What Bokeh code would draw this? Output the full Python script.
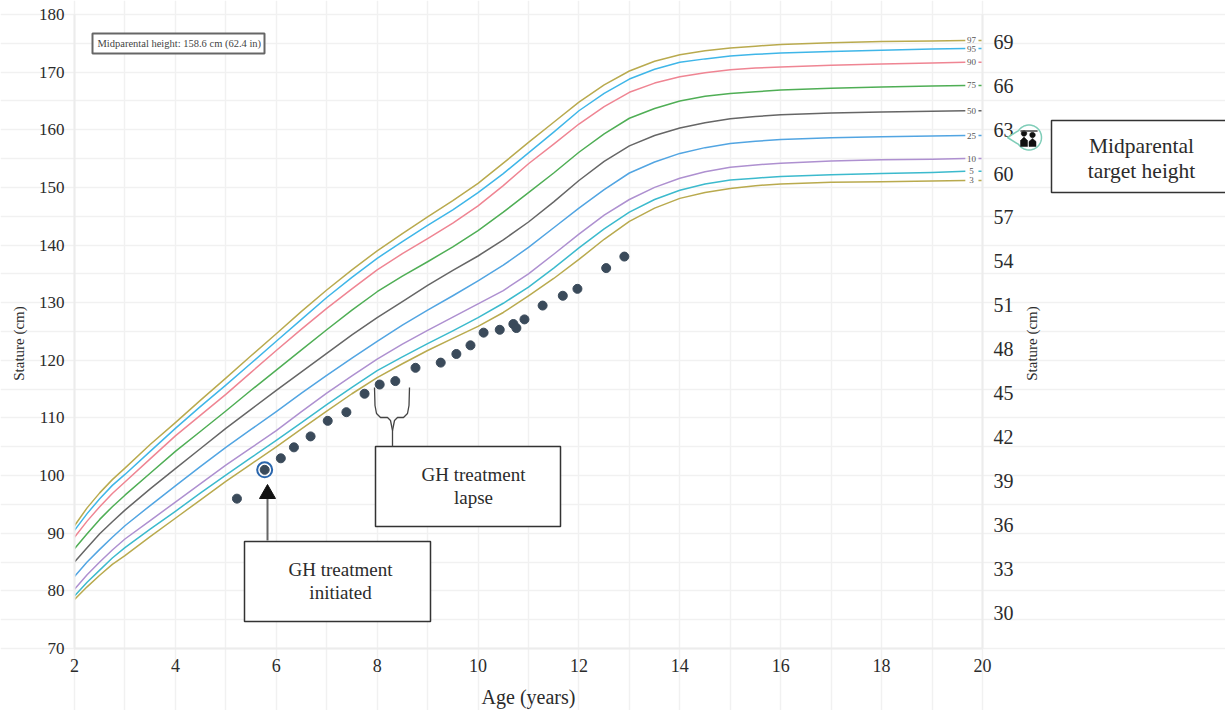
import numpy as np
from bokeh.embed import file_html
from bokeh.resources import INLINE
from bokeh.plotting import figure
from bokeh.models import Range1d, LinearAxis, FixedTicker, BoxAnnotation, Label, PolyAnnotation
from bokeh.core.properties import value

ages = [2, 2.25, 2.5, 2.75, 3, 3.5, 4, 4.5, 5, 5.5, 6, 6.5, 7, 7.5, 8, 8.5, 9, 9.5, 10, 10.5, 11, 11.5,
        12, 12.5, 13, 13.5, 14, 14.5, 15, 15.5, 16, 17, 18, 19, 19.66]
p97 = [91.3, 94.4, 97.0, 99.3, 101.3, 105.4, 109.2, 113.1, 116.9, 120.8, 124.6, 128.5, 132.2, 135.7, 139.0, 142.0, 144.9, 147.7, 150.7, 154.2, 157.8, 161.3, 164.8, 167.8, 170.2, 171.9, 173.0, 173.7, 174.2, 174.5, 174.8, 175.1, 175.3, 175.4, 175.5]
p95 = [90.5, 93.4, 96.0, 98.3, 100.2, 104.2, 108.2, 112.0, 115.7, 119.5, 123.3, 127.1, 130.9, 134.4, 137.7, 140.6, 143.4, 146.1, 149.1, 152.4, 156.0, 159.6, 163.3, 166.3, 168.8, 170.5, 171.7, 172.3, 172.8, 173.1, 173.3, 173.6, 173.8, 174.0, 174.1]
p90 = [89.3, 92.1, 94.6, 96.9, 98.9, 102.9, 106.9, 110.5, 114.1, 117.9, 121.7, 125.4, 129.0, 132.4, 135.7, 138.5, 141.1, 143.8, 146.8, 150.3, 154.1, 157.5, 161.0, 164.0, 166.5, 168.1, 169.2, 169.9, 170.4, 170.7, 170.9, 171.2, 171.4, 171.6, 171.7]
p75 = [87.3, 89.9, 92.4, 94.6, 96.6, 100.4, 104.2, 107.7, 111.2, 114.8, 118.3, 121.8, 125.3, 128.7, 131.9, 134.6, 137.1, 139.7, 142.5, 145.7, 149.1, 152.5, 156.1, 159.3, 162.0, 163.7, 165.0, 165.8, 166.3, 166.6, 166.9, 167.2, 167.4, 167.6, 167.7]
p50 = [85.0, 87.5, 89.9, 92.0, 94.0, 97.7, 101.2, 104.7, 108.2, 111.5, 114.8, 118.0, 121.2, 124.4, 127.4, 130.2, 133.0, 135.6, 138.1, 140.9, 144.0, 147.5, 151.2, 154.5, 157.2, 159.0, 160.3, 161.2, 161.9, 162.3, 162.6, 162.9, 163.1, 163.2, 163.3]
p25 = [82.5, 85.0, 87.2, 89.3, 91.3, 94.8, 98.2, 101.6, 104.9, 108.0, 111.1, 114.3, 117.4, 120.4, 123.3, 126.1, 128.7, 131.2, 133.8, 136.5, 139.6, 143.0, 146.4, 149.6, 152.5, 154.4, 155.9, 156.9, 157.6, 158.0, 158.3, 158.6, 158.8, 158.9, 159.0]
p10 = [80.3, 82.8, 85.0, 87.1, 89.0, 92.2, 95.4, 98.6, 101.8, 104.8, 107.8, 111.1, 114.3, 117.3, 120.2, 122.8, 125.2, 127.5, 129.8, 132.1, 135.0, 138.4, 141.9, 145.2, 147.9, 150.0, 151.6, 152.7, 153.5, 153.9, 154.2, 154.6, 154.8, 154.9, 155.0]
p5 = [79.1, 81.5, 83.6, 85.7, 87.5, 90.7, 93.8, 97.0, 100.1, 103.1, 106.1, 109.2, 112.3, 115.3, 118.2, 120.6, 122.9, 125.1, 127.4, 129.9, 132.7, 136.0, 139.5, 142.8, 145.7, 147.9, 149.5, 150.6, 151.3, 151.6, 151.9, 152.2, 152.4, 152.6, 152.8]
p3 = [78.5, 80.7, 82.7, 84.6, 86.1, 89.4, 92.6, 95.8, 99.0, 102.0, 105.0, 108.1, 111.2, 114.2, 117.0, 119.4, 121.7, 123.8, 125.9, 128.3, 131.2, 134.2, 137.5, 141.0, 144.1, 146.4, 148.1, 149.1, 149.8, 150.3, 150.6, 150.9, 151.0, 151.1, 151.2]

series_names = ["97", "95", "90", "75", "50", "25", "10", "5", "3"]
series_vals = [p97, p95, p90, p75, p50, p25, p10, p5, p3]
series_cols = ["#b9aa4e", "#3fb6e8", "#ef8593", "#4fae55", "#666666", "#52a5e2", "#ae90d0", "#3cbacd", "#b9aa4e"]

visit_age = [5.22, 5.77, 6.09, 6.35, 6.68, 7.02, 7.39, 7.75, 8.05, 8.36, 8.76, 9.26, 9.57, 9.85, 10.11, 10.43, 10.70, 10.76, 10.92, 11.28, 11.68, 11.97, 12.54, 12.90]
visit_stature = [96.0, 101.0, 103.0, 104.9, 106.8, 109.5, 111.0, 114.2, 115.8, 116.4, 118.7, 119.6, 121.1, 122.6, 124.8, 125.3, 126.3, 125.6, 127.1, 129.5, 131.2, 132.4, 136.0, 138.0]
start_index = 1

x_ticks = list(range(2, 21, 2))
y_ticks = list(range(70, 181, 10))
in_ticks = list(range(30, 70, 3))

SERIF = "Liberation Serif"
W, H = 1225, 710
# The frame fills the page, with the axes fixed at the plot's edges, so that the
# callouts and axis titles that lie outside the plot area are not clipped.
PX_X = 908 / 18     # pixels per year
PX_Y = 634 / 110    # pixels per cm
x0, x1 = 2 - 74 / PX_X, 2 + (W - 74) / PX_X
y0, y1 = 70 - (H - 648) / PX_Y, 180 + 14 / PX_Y

p = figure(width=W, height=H, output_backend="svg", toolbar_location=None,
           x_range=Range1d(x0, x1), y_range=Range1d(y0, y1),
           min_border_left=0, min_border_right=0, min_border_top=0, min_border_bottom=0,
           x_axis_location=None, y_axis_location=None)
p.outline_line_color = None
p.background_fill_color = "white"
p.border_fill_color = "white"

p.xgrid.ticker = FixedTicker(ticks=list(range(2, 21)))
p.ygrid.ticker = FixedTicker(ticks=list(range(70, 181, 5)))
p.xgrid.bounds = (70, 180)
p.ygrid.bounds = (2, 20)
for g in (p.xgrid[0], p.ygrid[0]):
    g.grid_line_color = "#f1f1f1"
    g.grid_line_width = 1.5

def style_axis(ax, tick_size, standoff):
    ax.axis_line_color = "#ececec"
    ax.axis_line_width = 2
    ax.major_tick_line_color = None
    ax.minor_tick_line_color = None
    ax.major_label_text_font = SERIF
    ax.major_label_text_font_size = tick_size
    ax.major_label_text_color = "#2b2b2b"
    ax.major_label_standoff = standoff

bottom = LinearAxis(ticker=FixedTicker(ticks=x_ticks), fixed_location=70, bounds=(2, 20))
left = LinearAxis(ticker=FixedTicker(ticks=y_ticks), fixed_location=2, bounds=(70, 180))
p.extra_y_ranges = {"in": Range1d(y0 / 2.54, y1 / 2.54)}
right = LinearAxis(y_range_name="in", ticker=FixedTicker(ticks=in_ticks), fixed_location=20,
                   bounds=(70 / 2.54, 180 / 2.54))
style_axis(bottom, "18px", 4)
style_axis(left, "17px", 4)
style_axis(right, "20px", 5)
p.add_layout(bottom, "below")
p.add_layout(left, "left")
p.add_layout(right, "right")

for name, vals, col in zip(series_names, series_vals, series_cols):
    xs = ages + [float("nan"), 19.92, 20]
    ys = vals + [float("nan"), vals[-1], vals[-1]]
    p.line(xs, ys, line_color=col, line_width=1.5, line_join="round")

p.text(x=[19.78] * 9, y=[v[-1] for v in series_vals], text=series_names,
       text_font=value(SERIF), text_font_size=value("9px"), text_color="#555555",
       text_align="center", text_baseline="middle")

p.scatter(visit_age, visit_stature, size=9, color="#3a4a5a")
p.scatter([visit_age[start_index]], [visit_stature[start_index]], size=15, fill_color=None,
          line_color="#2a66ad", line_width=2)

# ---- annotations placed on the canvas, in page pixels
def box(l, t, r, b, lc="#333333", lw=1.5):
    p.add_layout(BoxAnnotation(left=l, right=r, top=t, bottom=b,
                               left_units="canvas", right_units="canvas",
                               top_units="canvas", bottom_units="canvas",
                               fill_color="white", fill_alpha=1,
                               line_color=lc, line_alpha=1, line_width=lw))

def text(x, y, s, size, align="center", color="#2b2b2b", angle=0.0):
    p.add_layout(Label(x=x, y=y, x_units="canvas", y_units="canvas", text=s, angle=angle,
                       text_font=SERIF, text_font_size=size, text_color=color,
                       text_align=align, text_baseline="middle"))

def poly(pts, fill=None, lc=None, lw=1.0):
    xs = [a for a, _ in pts]
    ys = [b for _, b in pts]
    p.add_layout(PolyAnnotation(xs=xs, ys=ys, xs_units="canvas", ys_units="canvas",
                                fill_color=fill if fill else "white", fill_alpha=1 if fill else 0,
                                line_color=lc, line_alpha=1, line_width=lw))

def open_path(pts, lc, lw):
    poly(pts + pts[::-1], None, lc, lw)

def ring(x, y, r, n=40, a0=0.0, a1=2 * np.pi):
    t = np.linspace(a0, a1, n)
    return [(x + r * np.cos(q), y + r * np.sin(q)) for q in t]

text(18, 343, "Stature (cm)", "15px", angle=np.pi / 2)
text(1031, 343, "Stature (cm)", "15px", angle=np.pi / 2)
text(528, 696, "Age (years)", "20px")

box(92, 33, 264, 53, "#666666", 2)
text(97, 43, "Midparental height: 158.6 cm (62.4 in)", "10.5px", "left", "#444444")

box(244, 541, 430, 621)
text(340, 569, "GH treatment", "19px")
text(340, 592, "initiated", "19px")
box(375, 446, 560, 526)
text(473, 474, "GH treatment", "19px")
text(473, 497, "lapse", "19px")
box(1051, 120, 1260, 192)
text(1141, 145, "Midparental", "21.5px")
text(1141, 170, "target height", "21.5px")

# arrow to treatment start
open_path([(267, 540), (267, 497)], "#666666", 2)
poly([(259, 498), (267, 484), (275, 498)], "#111111", "#111111", 1)

# brace over the lapse
open_path([(374, 387), (374.5, 405), (376, 413), (380, 417), (387, 417), (390, 420), (392, 430), (392, 446)], "#444444", 1.3)
open_path([(409, 387), (408.5, 405), (407, 413), (403, 417), (397, 417), (394, 420), (392, 430)], "#444444", 1.3)

# midparental bubble
bubble = ring(1028.5, 137, 12.5, 40, -2.55, 2.55) + [(1007, 137)]
poly(bubble, "white", "#7fcdb8", 1.5)
poly(ring(1023.5, 133, 2.8, 16), "#111111", "#111111", 0.5)
poly(ring(1032, 134.5, 2.8, 16), "#111111", "#111111", 0.5)
poly([(1020, 146), (1020, 140), (1023.5, 136.5), (1027, 140), (1027, 146)], "#111111", "#111111", 0.5)
poly([(1028.5, 146), (1028.5, 141), (1032, 138), (1035.5, 141), (1035.5, 146)], "#111111", "#111111", 0.5)
open_path([(1020, 130.5), (1037, 130.5)], "#444444", 1)

open("out.html", "w").write(file_html(p, INLINE))
